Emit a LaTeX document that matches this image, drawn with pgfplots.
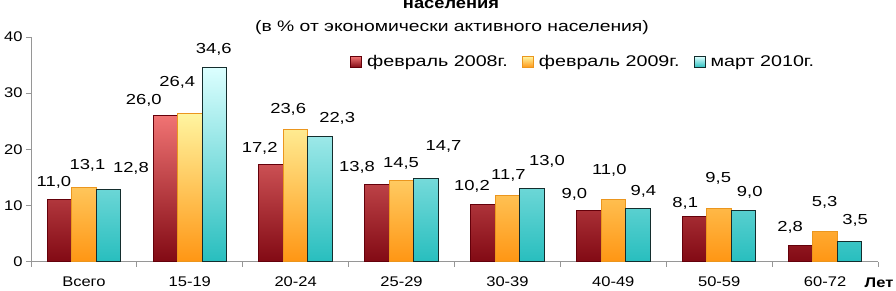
\documentclass[border=0pt]{standalone}
\usepackage{fontspec}
\setmainfont{Liberation Sans}[FakeStretch=1.18]
\newfontfamily\wide{Liberation Sans}[FakeStretch=1.27]
\usepackage{pgfplots}
\pgfplotsset{compat=1.18}
\usepackage{pgfplotstable}

\definecolor{rtop}{RGB}{240,115,115}
\definecolor{rbot}{RGB}{130,10,20}
\definecolor{rdraw}{RGB}{100,0,10}
\definecolor{ytop}{RGB}{255,245,160}
\definecolor{ybot}{RGB}{255,150,20}
\definecolor{ydraw}{RGB}{235,150,30}
\definecolor{ctop}{RGB}{220,255,255}
\definecolor{cbot}{RGB}{40,190,190}
\definecolor{cdraw}{RGB}{20,45,45}
\definecolor{axgray}{RGB}{150,150,150}

\pgfplotstableread{
x y lbl dx dy
0 11.0 11,0 -5.5 17.8
1 26.0 26,0 -21.5 15.6
2 17.2 17,2 -11.5 17
3 13.8 13,8 -20 18
4 10.2 10,2 -11 18.3
5 9.0 9,0 -14.5 17
6 8.1 8,1 -9.5 14
7 2.8 2,8 -10.5 18.8
}\tA
\pgfplotstableread{
x y lbl dx dy
0 13.1 13,1 3.5 23
1 26.4 26,4 -12.5 32
2 23.6 23,6 -7.5 21
3 14.5 14,5 -0.5 18
4 11.7 11,7 1 21
5 11.0 11,0 -4 30
6 9.5 9,5 -1 31
7 5.3 5,3 -0.5 30
}\tB
\pgfplotstableread{
x y lbl dx dy
0 12.8 12,8 22.5 21.7
1 34.6 34,6 -0.5 19
2 22.3 22,3 17 19
3 14.7 14,7 17.5 33
4 13.0 13,0 15 28.5
5 9.4 9,4 5.5 18.7
6 9.0 9,0 6 19
7 3.5 3,5 5.5 22
}\tC

\pgfplotsset{
  mylegend/.style={legend image code/.code={\draw[##1] (0pt,-5.5pt) rectangle (11pt,5.5pt);}},
}

\begin{document}
\begin{tikzpicture}
\begin{axis}[
  at={(0pt,0pt)}, anchor=south west,
  scale only axis, width=847pt, height=224.5pt,
  xmin=-0.5, xmax=7.5, ymin=0, ymax=40,
  axis lines*=left,
  axis line style={draw=axgray, line width=0.8pt, -},
  tick align=outside,
  ytick={0,10,20,30,40},
  y tick style={draw=axgray, line width=0.8pt},
  major tick length=5pt,
  minor tick length=5pt,
  xtick={0,...,7},
  xticklabels={Всего,15-19,20-24,25-29,30-39,40-49,50-59,60-72},
  major x tick style={draw=none},
  minor xtick={-0.5,0.5,...,7.5},
  minor x tick style={draw=axgray, line width=0.8pt},
  /pgf/number format/assume math mode=true,
  tick label style={font=\fontsize{14}{16}\selectfont},
  xticklabel style={anchor=base, yshift=-20pt},
  yticklabel style={anchor=east},
  ybar, bar width=24.5pt,
  nodes near coords,
  point meta=explicit symbolic,
  visualization depends on={\thisrow{dx} \as \dx},
  visualization depends on={\thisrow{dy} \as \dy},
  every node near coord/.append style={anchor=base, xshift=\dx pt, yshift=\dy pt, yshift=-5pt, text=black, font=\wide\fontsize{14.5}{16}\selectfont},
  legend columns=3,
  legend style={draw=none, fill=none, inner sep=0pt, at={(319pt,199.5pt)}, anchor=west,
    font=\wide\fontsize{15.5}{17}\selectfont,
    nodes={inner sep=0pt},
    /tikz/every odd column/.append style={column sep=5pt},
    /tikz/every even column/.append style={column sep=14pt}},
  clip=false,
]
\addplot[draw=rdraw, line width=1pt, top color=rtop, bottom color=rbot, bar shift=-24.5pt, mylegend] table[x=x, y=y, meta=lbl] {\tA};
\addlegendentry{февраль 2008г.}
\addplot[draw=ydraw, line width=1pt, top color=ytop, bottom color=ybot, bar shift=0pt, mylegend] table[x=x, y=y, meta=lbl] {\tB};
\addlegendentry{февраль 2009г.}
\addplot[draw=cdraw, line width=1pt, top color=ctop, bottom color=cbot, bar shift=24.5pt, mylegend] table[x=x, y=y, meta=lbl] {\tC};
\addlegendentry{март 2010г.}
\end{axis}
\node[anchor=base, font=\bfseries\fontsize{15.5}{18}\selectfont] at (420pt,253pt) {населения};
\node[anchor=base, font=\wide\fontsize{15.2}{18}\selectfont] at (421pt,229.5pt) {(в \% от экономически активного населения)};
\node[anchor=base, font=\bfseries\fontsize{14}{16}\selectfont] at (848pt,-26pt) {Лет};
\pgfresetboundingbox
\useasboundingbox (-31pt,-28.5pt) rectangle (865pt,261.5pt);
\end{tikzpicture}
\end{document}
